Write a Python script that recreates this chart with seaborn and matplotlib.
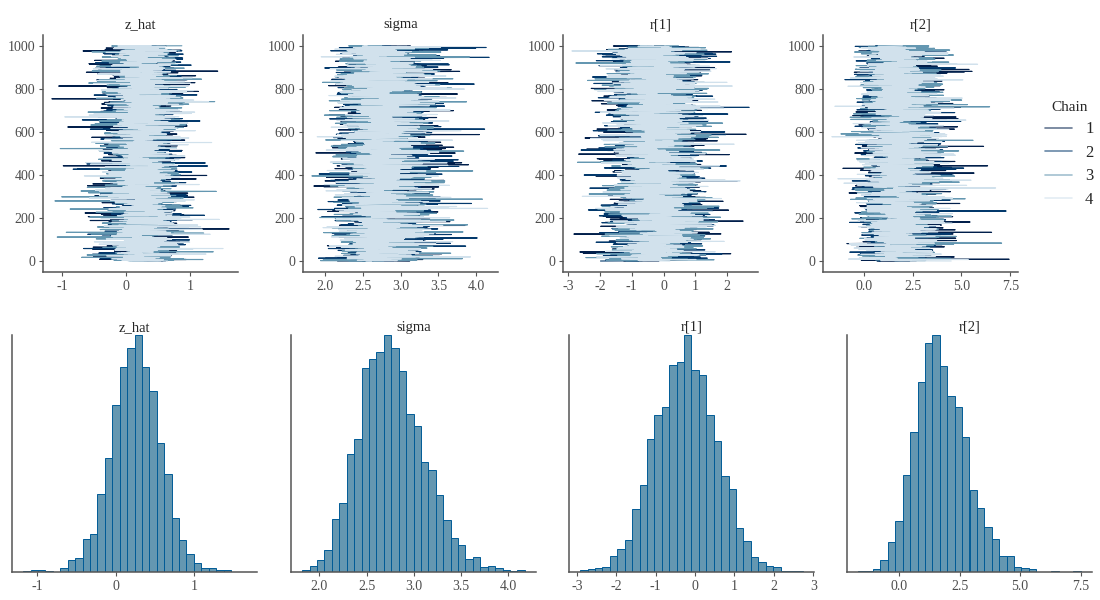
import numpy as np
import pandas as pd
import seaborn as sns
import matplotlib.pyplot as plt
from matplotlib.lines import Line2D

# parameter names, as they appear in the panel titles
params = ["z_hat", "sigma", "r[1]", "r[2]"]

# histogram bin range (30 bins) read from the bottom row
bin_lo = {"z_hat": -1.18, "sigma": 1.816, "r[1]": -2.915, "r[2]": -1.699}
bin_hi = {"z_hat": 1.655, "sigma": 4.18, "r[1]": 2.737, "r[2]": 7.514}

# draws per bin (4 chains x 1000 iterations = 4000 draws)
counts_z_hat = [2, 4, 4, 2, 1, 9, 26, 29, 70, 81, 166, 243, 358, 439, 480,
                507, 438, 388, 276, 210, 116, 68, 38, 19, 8, 8, 4, 4, 1, 1]
counts_sigma = [3, 9, 20, 35, 86, 112, 192, 216, 330, 345, 356, 384, 363, 326, 256,
                237, 178, 166, 124, 85, 55, 44, 21, 24, 8, 9, 6, 4, 2, 4]
counts_r1 = [3, 5, 7, 9, 27, 39, 55, 108, 150, 229, 271, 284, 356, 361, 408,
             348, 339, 271, 226, 165, 143, 76, 53, 25, 17, 11, 8, 2, 2, 2]
counts_r2 = [2, 2, 6, 24, 61, 105, 200, 288, 391, 471, 488, 425, 362, 339, 277,
             169, 132, 93, 68, 32, 32, 10, 8, 6, 1, 1, 3, 1, 1, 2]
counts = {"z_hat": counts_z_hat, "sigma": counts_sigma, "r[1]": counts_r1, "r[2]": counts_r2}

chains = [1, 2, 3, 4]
n_iter = 1000
chain_colors = ["#011f4b", "#03396c", "#6497b1", "#d1e1ec"]

x_ticks = {
    "z_hat": [-1, 0, 1],
    "sigma": [2.0, 2.5, 3.0, 3.5, 4.0],
    "r[1]": [-3, -2, -1, 0, 1, 2],
    "r[2]": [0.0, 2.5, 5.0, 7.5],
}
x_ticks_hist = dict(x_ticks)
x_ticks_hist["r[1]"] = [-3, -2, -1, 0, 1, 2, 3]


def tick_fmt(v, p):
    if p in ("sigma", "r[2]"):
        return f"{v:.1f}"
    return f"{int(v)}"


def build_draws(p, order_seed):
    # spread each bin's draws over that bin, then deal them out to the chains
    edges = np.linspace(bin_lo[p], bin_hi[p], 31)
    vals = []
    for i, n in enumerate(counts[p]):
        a, b = edges[i], edges[i + 1]
        vals.extend(a + (b - a) * (np.arange(n) + 0.5) / n)
    vals = np.array(vals)
    order = np.random.default_rng(order_seed).permutation(len(vals))
    vals = vals[order]
    df = pd.DataFrame({
        "value": vals,
        "chain": np.repeat(chains, n_iter),
        "iteration": np.tile(np.arange(1, n_iter + 1), len(chains)),
    })
    return df, edges


sns.set_theme(style="ticks")
plt.rcParams["font.family"] = ["Liberation Serif", "DejaVu Serif"]

fig = plt.figure(figsize=(11, 6), dpi=100)
W, H = 1100, 600

top_left = [43, 303, 563, 823]
bot_left = [12, 291, 569, 847]
axis_col = "#555555"
tick_col = "#4d4d4d"

for k, p in enumerate(params):
    df, edges = build_draws(p, k + 7)

    # trace panel
    ax = fig.add_axes([top_left[k] / W, (H - 272) / H, 195 / W, 237 / H])
    sns.lineplot(data=df, x="value", y="iteration", hue="chain", palette=chain_colors,
                 sort=False, estimator=None, orient="y", linewidth=0.8,
                 legend=False, ax=ax)
    ax.set_yticks([0, 200, 400, 600, 800, 1000])
    ax.set_xticks(x_ticks[p])
    ax.set_xticklabels([tick_fmt(v, p) for v in x_ticks[p]])
    ax.set_ylim(-50, 1050)
    ax.set_xlabel("")
    ax.set_ylabel("")
    ax.set_title(p, fontsize=10.5, pad=5)

    # histogram panel
    axh = fig.add_axes([bot_left[k] / W, (H - 572) / H, 245 / W, 237 / H])
    sns.histplot(x=df["value"], bins=edges, color="#6497b1", edgecolor="#005b96",
                 linewidth=0.7, alpha=1, ax=axh)
    axh.set_ylim(0, max(counts[p]))
    span = edges[-1] - edges[0]
    axh.set_xlim(edges[0] - 0.05 * span, edges[-1] + 0.05 * span)
    axh.set_xticks(x_ticks_hist[p])
    axh.set_xticklabels([tick_fmt(v, p) for v in x_ticks_hist[p]])
    axh.set_yticks([])
    axh.set_xlabel("")
    axh.set_ylabel("")
    axh.set_title(p, fontsize=10.5, pad=3)

    for a in (ax, axh):
        sns.despine(ax=a)
        for s in ("left", "bottom"):
            a.spines[s].set_color(axis_col)
            a.spines[s].set_linewidth(1.1)
        a.tick_params(colors=axis_col, labelcolor=tick_col, labelsize=10, length=3, width=0.8,
                      pad=2.5)

handles = [Line2D([], [], color=c, alpha=0.6, linewidth=1.2) for c in chain_colors]
fig.legend(handles, [str(c) for c in chains], title="Chain", loc="upper left",
           bbox_to_anchor=(1030 / W, 1 - 86 / H), frameon=False, fontsize=12,
           title_fontsize=11, handlelength=1.6, labelspacing=0.45)

fig.savefig("out.png", dpi=100)
